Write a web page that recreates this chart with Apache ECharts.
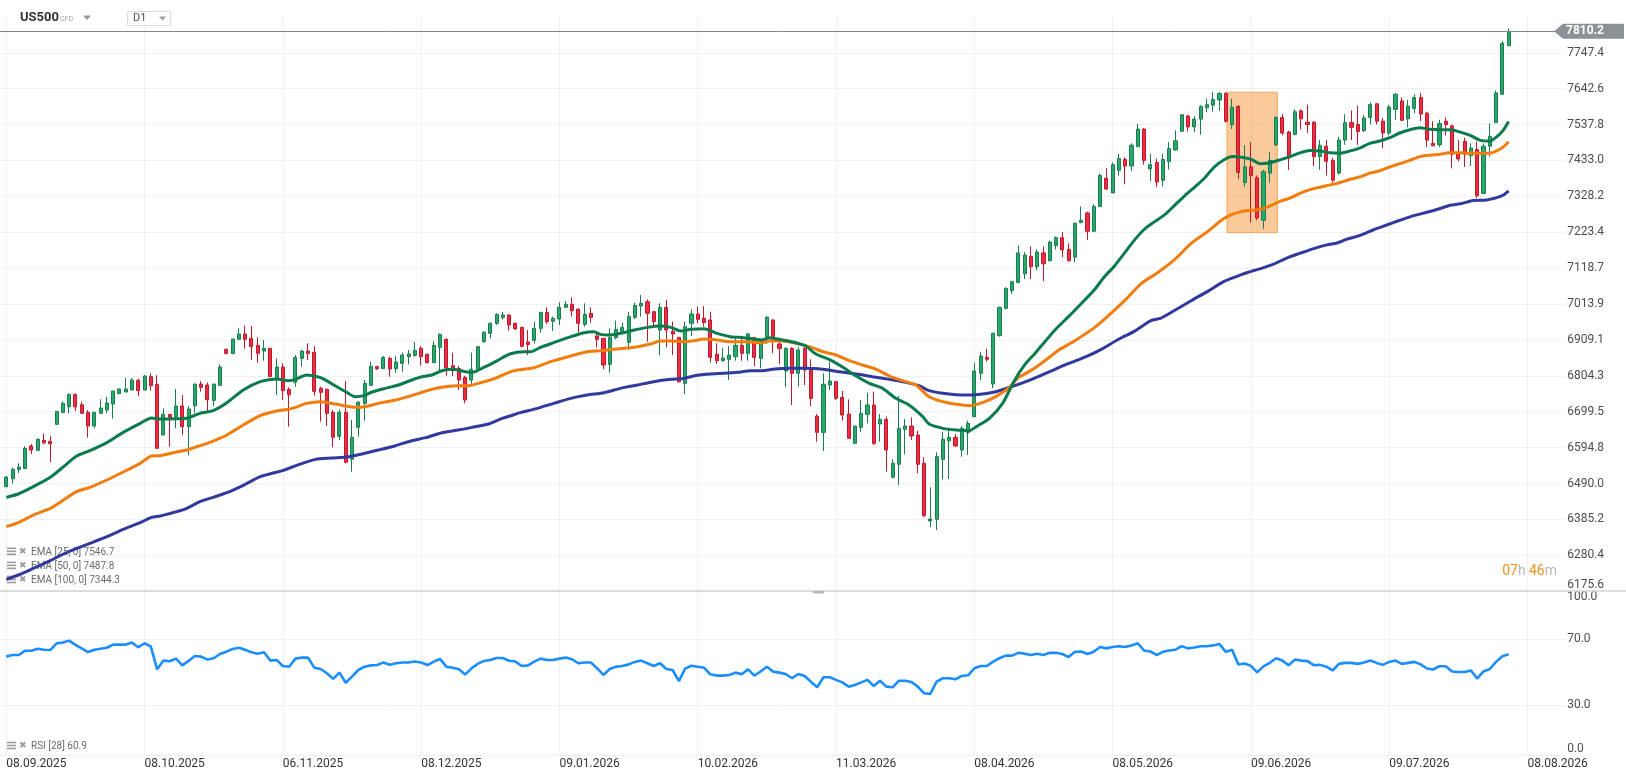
<!DOCTYPE html>
<html>
<head>
<meta charset="utf-8">
<title>US500 D1</title>
<script src="https://cdn.jsdelivr.net/npm/echarts@6/dist/echarts.min.js"></script>
<style>
  html, body { margin: 0; padding: 0; background: #fff; }
  #chart { width: 1626px; height: 779px; }
</style>
</head>
<body>
<div id="chart"></div>
<script>
// date labels, one every 22 bars starting at the first bar
const xLabels = ['08.09.2025', '08.10.2025', '06.11.2025', '08.12.2025', '09.01.2026', '10.02.2026',
  '11.03.2026', '08.04.2026', '08.05.2026', '09.06.2026', '09.07.2026', '08.08.2026'];
const priceTicks = [6175.6, 6280.4, 6385.2, 6490.0, 6594.8, 6699.5, 6804.3, 6909.1, 7013.9, 7118.7,
  7223.4, 7328.2, 7433.0, 7537.8, 7642.6, 7747.4];
const rsiTicks = [0, 30, 70, 100];

// daily candles, oldest first
const opens = [
  6480.7, 6504, 6531, 6534, 6599.4, 6586.8, 6616, 6613, 6662.7, 6697.7,
  6714, 6750, 6720, 6697.7, 6657.8, 6694.8, 6704.5, 6722, 6752.2, 6757,
  6762.9, 6791.1, 6762.9, 6801.8, 6779.4, 6631.5, 6691.9, 6685, 6716.2, 6655.9,
  6717, 6780.4, 6777.5, 6732.7, 6776.5, 6881.6, 6869, 6910.8, 6926.4, 6913.7,
  6893.3, 6876.7, 6884.5, 6797, 6830, 6764.8, 6785.3, 6855.3, 6876.7, 6872.8,
  6767.8, 6764.8, 6697.7, 6627.6, 6697.7, 6560.5, 6653.9, 6723.9, 6776.5, 6831,
  6825.2, 6855.3, 6825.2, 6840.7, 6860.2, 6864, 6884.5, 6867, 6842.7, 6887.4,
  6910.8, 6833.9, 6826.1, 6799.9, 6792.1, 6823.2, 6904, 6928.3, 6957.5, 6975,
  6981.8, 6957.5, 6945.8, 6903, 6907.9, 6942.9, 6989.6, 6963.4, 6970.2, 7004.2,
  7013, 6999.4, 6954.6, 6986.7, 6920.6, 6913.7, 6837.8, 6915.7, 6933.2, 6902,
  6975, 7008.1, 7020.8, 6991.6, 6938, 7004.2, 6934.2, 6916.7, 6782.4, 6957.5,
  6984.8, 6972.1, 6967.3, 6867, 6848.5, 6852.4, 6860.2, 6893.3, 6870, 6915.7,
  6855.3, 6918.6, 6967.3, 6897.2, 6818.4, 6884.5, 6811.6, 6884.5, 6821.3, 6687,
  6639.3, 6777.5, 6787.2, 6741.5, 6692.9, 6607.2, 6653.9, 6691.9, 6719.1, 6663.7,
  6677.3, 6508, 6546, 6648.1, 6657.8, 6631.5, 6548.9, 6380.5, 6385.4, 6560.5,
  6615, 6624.7, 6587.8, 6638.4, 6685.1, 6811.6, 6858.3, 6780.4, 6921.5, 7001.3,
  7052.9, 7076.9, 7102.3, 7153, 7122.6, 7163.2, 7140.4, 7184.7, 7207.6, 7173.3,
  7150.5, 7252, 7279.9, 7226.6, 7298.9, 7381.3, 7338.2, 7404.2, 7435.9, 7416.8,
  7473.9, 7524.6, 7408, 7427, 7375, 7429.5, 7463.8, 7518.3, 7562.7, 7531,
  7553.8, 7586.8, 7594.4, 7609.6, 7628.6, 7537.3, 7590.6, 7368.6, 7414.3, 7382.6,
  7258.4, 7396.1, 7478.8, 7558.7, 7515.9, 7509.1, 7578, 7544.9, 7544.9, 7444.3,
  7474.6, 7433.3, 7396.1, 7492.5, 7543.5, 7538, 7520.1, 7558.7, 7598.6, 7547.6,
  7513.2, 7582.1, 7606.9, 7554.5, 7584.8, 7616.5, 7571.1, 7482.9, 7478.8, 7547.6,
  7533.9, 7455.3, 7488.4, 7447.1, 7465, 7336.9, 7474.6, 7543.5, 7626.2, 7768
];
const closes = [
  6508.9, 6531.3, 6538, 6592.6, 6587.7, 6618.9, 6609, 6606, 6700.6, 6724,
  6750, 6714, 6694.8, 6657.8, 6697.7, 6710.3, 6725, 6760, 6765.8, 6765.8,
  6792, 6761, 6803.8, 6775.5, 6592.6, 6691.9, 6683, 6716.2, 6655.9, 6707.4,
  6780.4, 6770.7, 6734.7, 6780.4, 6830, 6869.9, 6911.8, 6926.4, 6910.8, 6889.4,
  6869.9, 6884.5, 6801.8, 6830, 6760.9, 6749.3, 6858.2, 6876.7, 6869.9, 6759,
  6756.1, 6694.8, 6624.7, 6697.7, 6551.8, 6624.7, 6726.9, 6782.4, 6832, 6825.2,
  6858.2, 6824.2, 6844.6, 6865, 6868, 6878.7, 6860.2, 6842.7, 6893.3, 6925.4,
  6828.1, 6819.3, 6792.1, 6733.7, 6823.2, 6889.4, 6931.2, 6957.5, 6983.8, 6981.8,
  6952.6, 6942, 6890.4, 6895.3, 6942.9, 6989.6, 6962.4, 6972.1, 7004.2, 7013,
  6994.5, 6957.5, 6983.8, 6975, 6910.8, 6835.9, 6915.7, 6940, 6945.8, 6977,
  7010, 7015.9, 6986.7, 6962.4, 7004.2, 6938, 6926.4, 6787.2, 6947.8, 6984.8,
  6969.2, 6959.5, 6858.3, 6848.5, 6856.3, 6865.1, 6893.3, 6870, 6926.4, 6858.3,
  6907, 6975, 6918.6, 6884.5, 6884.5, 6811.6, 6879.7, 6821.3, 6738.6, 6639.3,
  6779.5, 6789.2, 6738.6, 6690, 6621.8, 6657.8, 6694.8, 6719.1, 6607.2, 6677.3,
  6587.8, 6548.9, 6651, 6657.8, 6628.6, 6546, 6396.1, 6386.4, 6568.3, 6618.9,
  6624.7, 6599.4, 6651, 6665.6, 6818.4, 6862.2, 6852.4, 6928.3, 7004.2, 7059.7,
  7079.1, 7163.2, 7156.8, 7122.6, 7165.7, 7131.5, 7194.9, 7207.6, 7172, 7140.4,
  7249.4, 7258.3, 7226.6, 7298.9, 7388.9, 7349.6, 7420.6, 7438.4, 7416.8, 7477.7,
  7524.6, 7433.3, 7420.6, 7369.9, 7435.9, 7467.6, 7490.4, 7566.5, 7531, 7553.8,
  7590.6, 7595.7, 7610.9, 7628.6, 7547.5, 7588.1, 7397.8, 7414.3, 7388.9, 7264.7,
  7400.2, 7433.3, 7558.7, 7513.2, 7440.2, 7575.2, 7554.5, 7538, 7444.3, 7477.4,
  7430.6, 7375.4, 7492.5, 7543.5, 7529.7, 7517.3, 7557.3, 7595.9, 7547.6, 7513.2,
  7589, 7626.2, 7550.4, 7591.7, 7616.5, 7568.3, 7492.5, 7476, 7540.7, 7538,
  7451.2, 7437.4, 7451.2, 7469.1, 7330, 7474.6, 7503.5, 7630.3, 7774.9, 7810.2
];
const lows = [
  6478.8, 6490, 6521, 6534, 6576, 6586.8, 6605, 6552.7, 6662.7, 6694.8,
  6694.8, 6701.6, 6692.8, 6623.8, 6651, 6694.8, 6694.8, 6679.2, 6752.2, 6757,
  6762.9, 6745.4, 6762.9, 6760.9, 6592.6, 6631.5, 6597.5, 6651, 6631.5, 6572.2,
  6694.8, 6758, 6699.6, 6716.2, 6776.5, 6867, 6869, 6910.8, 6883.5, 6850.5,
  6842.7, 6848.5, 6801.8, 6748.3, 6733.7, 6655.9, 6772.6, 6831, 6850.5, 6746.4,
  6670.5, 6657.8, 6595.5, 6616.9, 6548.8, 6524.5, 6626.7, 6673.4, 6776.5, 6821.3,
  6825.2, 6801.8, 6813.5, 6816.4, 6837.8, 6860.2, 6833.9, 6840.7, 6842.7, 6821.3,
  6804.7, 6803.8, 6762.9, 6724, 6777.5, 6823.2, 6901, 6913.7, 6952.6, 6969.2,
  6936.1, 6938, 6887.5, 6865.1, 6899.1, 6930.3, 6955.6, 6935.1, 6952.7, 7004.2,
  6977, 6930.3, 6947.8, 6959.5, 6887.5, 6823.2, 6813.5, 6910.8, 6928.3, 6879.7,
  6970.2, 6977, 6904, 6951.7, 6864.1, 6887.5, 6865.1, 6784.3, 6751.3, 6920.6,
  6957.5, 6947.8, 6842.7, 6838.8, 6845.6, 6792.1, 6848.5, 6848.5, 6848.5, 6833,
  6826.2, 6897.2, 6870, 6838.8, 6770.7, 6719.1, 6772.6, 6777.5, 6716.2, 6612.1,
  6584.9, 6762.9, 6733.7, 6673.4, 6621.8, 6607.2, 6641.3, 6665.6, 6602.4, 6612.1,
  6524.5, 6505.1, 6485.6, 6575.1, 6617, 6519.7, 6391.3, 6362.1, 6354.3, 6502.2,
  6503.1, 6597.5, 6568.3, 6573.2, 6683.1, 6792.1, 6845.6, 6767.8, 6918.6, 6998.4,
  7043.2, 7074.4, 7087.1, 7087.1, 7112.4, 7080.7, 7137.8, 7173.3, 7150.5, 7137.8,
  7135.3, 7249.4, 7201.2, 7224.1, 7296.4, 7347.1, 7338.2, 7389, 7363.6, 7401.6,
  7471.4, 7420.6, 7372.5, 7356, 7357.2, 7406.7, 7461.2, 7515.8, 7518.3, 7515.8,
  7508.2, 7574.1, 7575.4, 7577.9, 7543.7, 7524.6, 7378.8, 7356, 7252, 7258.3,
  7233.6, 7368.6, 7474.6, 7506.3, 7405.7, 7506.3, 7522.8, 7513.2, 7416.8, 7405.7,
  7389.2, 7368.6, 7392, 7478.8, 7492.5, 7478.8, 7516, 7538, 7538, 7469.1,
  7506.3, 7551.8, 7547.6, 7529.7, 7571.1, 7547.6, 7471.9, 7474.6, 7471.9, 7506.3,
  7409.9, 7430.6, 7414, 7416.8, 7323.1, 7334.1, 7444.3, 7543.5, 7626.2, 7768
];
const highs = [
  6511.9, 6536, 6549, 6599, 6605, 6622, 6636, 6628, 6700.6, 6729,
  6753, 6753.2, 6728.8, 6704.5, 6697.7, 6735.6, 6743.4, 6760, 6767.7, 6797.9,
  6797.9, 6796, 6806.7, 6811.5, 6805.7, 6709.4, 6691.9, 6765.8, 6748.3, 6716,
  6780.4, 6789, 6785, 6780.4, 6837.8, 6884.5, 6911.8, 6942.9, 6950.7, 6949.7,
  6916.6, 6908.8, 6884.5, 6855.3, 6840.7, 6770.7, 6865, 6879.6, 6899.1, 6891.3,
  6772.6, 6767.8, 6704.5, 6706.5, 6789.2, 6675.3, 6730.8, 6792.1, 6845.6, 6833,
  6862, 6860.2, 6862, 6871.9, 6879.6, 6903, 6891.3, 6869.9, 6905.9, 6928.3,
  6913.7, 6871.9, 6833, 6804.7, 6871.9, 6889.4, 6935.1, 6960.4, 6986.7, 6990.6,
  6983.8, 6959.5, 6947.8, 6938, 6962.4, 6989.6, 7004.2, 6977, 7018.8, 7022.7,
  7033.4, 6999.4, 7015.9, 7004.2, 6928.3, 6913.7, 6942.9, 6965.3, 6959.5, 6991.6,
  7017.8, 7040.2, 7027.6, 6993.5, 7015.9, 7025.6, 6962.4, 6916.7, 6962.4, 6998.4,
  7006.2, 7008.1, 6991.6, 6899.1, 6884.5, 6891.3, 6918.6, 6913.7, 6930.3, 6918.6,
  6908.9, 6978.9, 6969.2, 6913.7, 6887.5, 6887.5, 6887.5, 6887.5, 6852.4, 6692.9,
  6811.6, 6845.6, 6789.2, 6760, 6735.6, 6657.8, 6733.7, 6755.1, 6758, 6692.9,
  6685.1, 6560.5, 6745.4, 6678.3, 6683.1, 6643.3, 6566.4, 6478.8, 6581, 6641.3,
  6646.2, 6634.5, 6657.8, 6673.4, 6842.7, 6874.8, 6883.6, 6930.3, 7006.2, 7062.6,
  7082, 7184.7, 7165.7, 7182.2, 7173.3, 7182.2, 7198.7, 7211.4, 7224.1, 7191.1,
  7252, 7298.9, 7283.7, 7305.2, 7395.3, 7410.5, 7427, 7452.4, 7442.2, 7482.8,
  7539.9, 7527.2, 7452.4, 7438.4, 7452.4, 7486.6, 7520.8, 7566.5, 7566.5, 7562.7,
  7594.4, 7613.4, 7632.5, 7632.5, 7632.5, 7613.4, 7594.4, 7477.7, 7486.6, 7389,
  7405.7, 7458.1, 7561.4, 7568.3, 7520.1, 7582.1, 7582.1, 7595.9, 7547.6, 7492.5,
  7492.5, 7440.2, 7502.2, 7568.3, 7579.3, 7593.1, 7565.5, 7602.7, 7598.6, 7557.3,
  7595.9, 7630.3, 7616.5, 7609.6, 7626.2, 7630.3, 7575.2, 7547.6, 7551.8, 7558.7,
  7538, 7492.5, 7499.4, 7482.9, 7488.4, 7482.9, 7540.7, 7637.2, 7781.8, 7819
];

// EMA readings as [bar, value]
const ema25 = [
  [0, 6449.6], [1.9, 6459.3], [4.3, 6480.7], [7, 6508], [9.1, 6539.1], [11.2, 6570.2], [13.3, 6585.8], [16, 6609.2],
  [18.6, 6639.3], [21.3, 6665.6], [23.1, 6681.2], [24.5, 6678.2], [27.1, 6679.2], [28.7, 6680.2], [30.8, 6694.8],
  [32.9, 6702.6], [35.1, 6725.9], [37.7, 6762.9], [40.4, 6787.2], [43, 6795], [44.9, 6790.1], [46, 6794], [47.8, 6806.7],
  [50, 6798.9], [52.4, 6774.6], [54, 6758], [55.5, 6743.4], [56.9, 6746.4], [58.2, 6757], [60.3, 6767.8], [62.4, 6777.5],
  [64.5, 6792.1], [66.1, 6801.8], [67.7, 6806.7], [69.3, 6819.3], [70.9, 6823.2], [73, 6816.4], [74.1, 6814.5],
  [76.2, 6831], [78.3, 6850.5], [80.1, 6868], [82.4, 6874.8], [83.4, 6874.8], [85, 6887.5], [87.1, 6901.1],
  [89.8, 6918.6], [91.9, 6930.3], [93.5, 6933.2], [94.5, 6925.4], [96.1, 6923.5], [97.7, 6928.3], [99.9, 6938],
  [102, 6945.8], [104.1, 6949.7], [105.7, 6945.8], [107.3, 6935.1], [108.9, 6940], [111, 6942], [113.1, 6928.3],
  [115.2, 6918.6], [117.3, 6915.7], [120.2, 6908.9], [121.4, 6915.7], [123.5, 6908.9], [125.6, 6901.1], [127.2, 6891.4],
  [128.8, 6868], [130.9, 6852.4], [133.1, 6829.1], [135.2, 6803.8], [137.3, 6782.4], [139.4, 6767.8], [141.5, 6738.6],
  [143.6, 6719.1], [145.8, 6685.1], [146.8, 6663.7], [149, 6651], [151.1, 6646.2], [153.2, 6644.2], [154.3, 6655.9],
  [156.4, 6680.2], [158.5, 6724], [160.3, 6788], [162, 6836], [163.6, 6869], [165.2, 6903.2], [166.8, 6937.4],
  [168.4, 6966.6], [170, 6995.8], [171.6, 7026.2], [173.1, 7055.4], [174.7, 7093.4], [176.3, 7125.1], [177.9, 7163.2],
  [179.5, 7201.2], [181.1, 7232.9], [182.7, 7254.5], [184.3, 7274.8], [185.9, 7302.6], [187.5, 7330.6], [189.1, 7356],
  [190.6, 7381.3], [192.2, 7414.3], [193.8, 7435.9], [195.1, 7444.8], [196.5, 7442.2], [198.1, 7435.9], [199.4, 7423.7],
  [201, 7426.4], [202.6, 7434.7], [204.2, 7444.3], [205.8, 7455.3], [207.4, 7462.2], [209, 7460.9], [210.6, 7455.3],
  [212.2, 7454], [213.8, 7460.9], [215.3, 7469.1], [216.9, 7482.9], [218.5, 7489.8], [220.1, 7499.4], [221.7, 7513.2],
  [223.3, 7522.8], [224.9, 7528.4], [226.5, 7524.2], [228.1, 7522.8], [229.7, 7522.8], [231.3, 7515.9], [232.9, 7506.3],
  [234.4, 7492.5], [236, 7489.8], [237.1, 7502.2], [238.1, 7520.1], [239, 7546.7]
];
const ema50 = [
  [0, 6364], [1.9, 6375.6], [4.3, 6398], [7, 6417.5], [9.1, 6441.8], [11.2, 6466.1], [13.3, 6478.8], [16, 6500.2],
  [18.6, 6523.5], [21.3, 6548.8], [23.1, 6570.2], [24.5, 6571.2], [27.1, 6581.9], [28.7, 6587.7], [30.8, 6600.4],
  [32.9, 6614], [35.1, 6631.5], [37.7, 6660.7], [40.4, 6688], [43, 6701.6], [44.9, 6706.5], [46, 6712.3], [47.8, 6724],
  [50, 6728.8], [52.4, 6722], [54, 6716.2], [55.5, 6712.3], [57.1, 6714.2], [59.2, 6724], [61.4, 6731.7], [63.5, 6741.5],
  [65.6, 6753.2], [67.7, 6764.8], [69.3, 6770.7], [70.9, 6774.6], [73.6, 6775.5], [75.1, 6782.4], [77.3, 6794],
  [80.1, 6815.4], [81.3, 6821.3], [84, 6828.1], [86.6, 6845.6], [89.8, 6862.2], [92.4, 6874.8], [94.5, 6877.7],
  [97.2, 6882.6], [99.9, 6887.5], [102.5, 6897.2], [104.1, 6905.9], [105.7, 6905.9], [107.3, 6904], [109.4, 6906.9],
  [111, 6911.8], [113.1, 6908.9], [115.2, 6904], [117.3, 6904], [120.2, 6901.1], [121.4, 6905.9], [123.5, 6905.9],
  [125.6, 6899.1], [127.8, 6889.4], [129.9, 6874.8], [132, 6865.1], [134.1, 6848.5], [136.2, 6835.9], [138.4, 6823.2],
  [140.5, 6803.8], [142.6, 6790.2], [144.7, 6777.5], [146.8, 6743.5], [149, 6728.9], [151.1, 6721.1], [153.2, 6717.2],
  [155.3, 6725.9], [157.4, 6743.5], [159.6, 6770.7], [160.9, 6797.9], [162.5, 6814.4], [164.6, 6839.8], [167.3, 6877.8],
  [170, 6907], [173.1, 6945], [175.3, 6979.3], [177.9, 7023.7], [180.6, 7074.4], [183.2, 7106.1], [185.9, 7144.2],
  [188.5, 7191.1], [191.2, 7226.6], [193.3, 7258.3], [194.9, 7274.8], [196.5, 7283.7], [198.1, 7287.5], [199.4, 7290],
  [201, 7299.7], [202.6, 7313.5], [204.2, 7323.1], [205.8, 7336.9], [207.4, 7347.9], [209, 7354.8], [210.6, 7361.7],
  [212.2, 7368.6], [213.8, 7378.2], [215.3, 7385.1], [216.9, 7396.1], [218.5, 7403], [220.1, 7414], [221.7, 7423.7],
  [223.3, 7433.3], [224.9, 7444.3], [226.5, 7448.5], [228.1, 7451.2], [229.7, 7455.3], [231.3, 7455.3], [232.9, 7454],
  [234.4, 7454], [236, 7454], [237.1, 7460.9], [238.1, 7471.9], [239, 7487.8]
];
const ema100 = [
  [0, 6210.2], [1.9, 6222.9], [4.3, 6242.3], [7, 6264.7], [9.1, 6284.2], [11.2, 6300.7], [13.3, 6315.3], [16, 6334.8],
  [18.6, 6356.2], [21.3, 6375.6], [23.1, 6391.2], [24.5, 6395.1], [27.1, 6407.8], [28.7, 6417.5], [30.8, 6437],
  [32.9, 6449.6], [35.1, 6463.2], [37.7, 6484.6], [40.4, 6509.9], [43.9, 6527.4], [46.5, 6544.9], [49.2, 6560.5],
  [51.8, 6564.4], [54.5, 6568.3], [56.6, 6576.1], [59.2, 6587.7], [61.9, 6600.4], [64.5, 6615], [66.7, 6623.8],
  [69.3, 6638.3], [71.9, 6646.1], [74.1, 6653.9], [76.7, 6663.6], [78.9, 6680.2], [80.1, 6687], [81.8, 6696.8],
  [84.5, 6709.4], [87.1, 6724], [89.8, 6738.6], [92.4, 6748.3], [95.1, 6755.1], [97.7, 6767.8], [100.4, 6777.5],
  [103, 6787.2], [105.7, 6794], [107.8, 6796.9], [109.9, 6805.7], [112, 6809.6], [114.1, 6811.6], [116.3, 6814.5],
  [118.4, 6819.4], [120.2, 6819.4], [121.9, 6823.2], [124.6, 6826.2], [127.2, 6826.2], [129.9, 6823.2], [132.5, 6816.4],
  [135.2, 6809.6], [137.8, 6801.8], [140.5, 6794], [143.1, 6785.3], [145.2, 6775.5], [146.8, 6761], [149, 6753.2],
  [151.1, 6749.3], [153.2, 6748.3], [155.3, 6751.2], [157.4, 6758], [159.6, 6770.7], [160.9, 6778.9], [163.6, 6797.9],
  [166.2, 6818.2], [168.9, 6839.8], [171.6, 6858.8], [174.2, 6881.6], [176.8, 6909.5], [179.5, 6934.9], [182.1, 6965.3],
  [183.7, 6972.9], [185.9, 6995.8], [188.5, 7023.7], [191.2, 7051.6], [193.8, 7080.7], [196.5, 7099.8], [198.6, 7112.4],
  [199.4, 7116.5], [201.6, 7130.3], [203.7, 7148.2], [205.8, 7161.9], [208, 7175.7], [210.1, 7186.7], [211.7, 7192.2],
  [213.3, 7203.3], [215.4, 7214.3], [217.5, 7230.8], [219.6, 7244.6], [221.7, 7258.4], [223.9, 7272.1], [226, 7281.8],
  [228.1, 7292.8], [229.7, 7302.4], [231.3, 7306.6], [233.4, 7316.2], [235.5, 7317.6], [237.1, 7324.5], [238.1, 7331.4],
  [239, 7344.3]
];

// RSI(28), one value per bar
const rsi = [
  59.5, 60.5, 60.5, 63.1, 63.1, 64.3, 63.7, 63.5, 67.6, 68.0,
  69.2, 66.6, 64.5, 62.3, 63.7, 64.3, 64.9, 66.8, 66.8, 66.8,
  68.0, 65.2, 67.6, 65.6, 51.8, 57.1, 56.7, 58.3, 54.2, 56.9,
  59.9, 59.5, 57.7, 58.5, 61.1, 62.5, 64.1, 64.9, 63.7, 62.1,
  61.3, 62.1, 57.1, 57.5, 53.8, 53.4, 58.3, 58.9, 58.9, 52.8,
  52.0, 49.4, 46.0, 49.8, 43.7, 47.4, 51.4, 53.4, 54.2, 54.4,
  55.9, 54.6, 55.5, 55.9, 55.9, 56.5, 55.9, 54.4, 56.5, 58.1,
  53.4, 52.8, 51.8, 48.6, 52.4, 55.1, 56.9, 57.5, 58.7, 58.7,
  57.0, 56.5, 53.8, 54.2, 56.5, 58.3, 57.5, 57.5, 58.3, 58.9,
  57.9, 55.5, 55.9, 55.9, 52.4, 48.4, 52.0, 53.4, 53.8, 54.8,
  56.3, 57.1, 55.5, 53.8, 55.5, 52.0, 51.4, 44.7, 52.2, 54.0,
  53.4, 52.8, 48.8, 48.0, 48.0, 48.4, 49.8, 48.8, 51.8, 48.0,
  50.5, 53.4, 50.4, 49.8, 49.0, 46.4, 49.0, 47.8, 44.3, 40.9,
  47.0, 47.0, 45.4, 43.9, 41.3, 42.3, 43.9, 45.4, 41.7, 44.9,
  41.3, 40.9, 44.9, 44.9, 44.1, 41.3, 37.3, 36.9, 44.3, 46.4,
  46.4, 45.8, 47.8, 48.2, 52.4, 53.8, 53.8, 56.5, 58.5, 60.1,
  60.1, 61.8, 61.3, 60.5, 61.3, 60.5, 61.8, 61.8, 61.1, 59.2,
  62.4, 62.6, 61.1, 62.4, 65.3, 64.5, 65.3, 65.8, 65.3, 66.3,
  67.6, 63.2, 62.6, 60.5, 62.4, 63.2, 63.7, 65.8, 64.5, 65.0,
  65.8, 65.8, 66.3, 67.1, 62.4, 63.7, 54.7, 55.3, 53.9, 50.0,
  53.6, 55.7, 58.5, 57.1, 54.3, 57.7, 57.1, 56.8, 54.3, 54.5,
  53.4, 51.1, 55.1, 55.7, 55.7, 55.1, 56.0, 57.1, 55.7, 54.5,
  56.3, 57.1, 55.1, 55.7, 56.3, 54.8, 52.3, 51.7, 53.7, 53.7,
  50.5, 50.2, 50.2, 51.1, 46.2, 50.5, 52.0, 56.3, 59.7, 60.9
];

// shaded zone: bars and prices
const highlightBars = [194.2, 202.2];
const highlightPrices = [7222.4, 7632.1];

const FONT = 'Roboto, "Liberation Sans", sans-serif';
const GRID_LINE = '#f0f0f0';
const priceMin = 6175.6, priceMax = 7852.4;
const labelEvery = 22;
const leadSlots = 1, tailSlots = 9;
const slotCount = leadSlots + opens.length + tailSlots;
const slots = Array.from({ length: slotCount }, (_, i) => String(i));
const isLabelSlot = i => i >= leadSlots && (i - leadSlots) % labelEvery === 0 && (i - leadSlots) / labelEvery < xLabels.length;

const candleRows = opens.map((o, i) => [i + leadSlots, o, closes[i], lows[i], highs[i]]);
const rsiRows = rsi.map((v, i) => [i + leadSlots, v]);
const toSlots = arr => arr.map(p => [p[0] + leadSlots, p[1]]);
const lastClose = closes[closes.length - 1];

const emaSeries = [
  { name: 'EMA [100, 0]', data: ema100, color: '#30399e' },
  { name: 'EMA [50, 0]', data: ema50, color: '#f27c0c' },
  { name: 'EMA [25, 0]', data: ema25, color: '#0b7b4e' }
];

const chart = echarts.init(document.getElementById('chart'));

const option = {
  animation: false,
  backgroundColor: '#fff',
  textStyle: { fontFamily: FONT },
  grid: [
    { left: 0, top: 16.8, width: 1565.2, height: 574.4 },
    { left: 0, top: 589.8, width: 1565.2, height: 165 }
  ],
  xAxis: [
    {
      type: 'category', gridIndex: 0, data: slots, boundaryGap: false,
      axisLine: { show: false }, axisTick: { show: false }, axisLabel: { show: false },
      splitLine: { show: true, interval: isLabelSlot, lineStyle: { color: GRID_LINE } }
    },
    { type: 'value', gridIndex: 0, min: 0, max: slotCount - 1, show: false },
    {
      type: 'category', gridIndex: 1, data: slots, boundaryGap: false,
      axisLine: { show: false }, axisTick: { show: false },
      axisLabel: {
        interval: isLabelSlot,
        formatter: (v, i) => xLabels[(i - leadSlots) / labelEvery] || '',
        align: 'left', margin: 3, fontSize: 12, color: '#333', fontFamily: FONT
      },
      splitLine: { show: true, interval: isLabelSlot, lineStyle: { color: GRID_LINE } }
    }
  ],
  yAxis: [
    {
      type: 'value', gridIndex: 0, position: 'right', min: priceMin, max: priceMax,
      axisLine: { show: false },
      axisTick: { show: false, customValues: priceTicks },
      axisLabel: {
        customValues: priceTicks, margin: 2, fontSize: 12, color: '#4d4d4d', fontFamily: FONT,
        formatter: v => Math.abs(v - priceMin) < 0.01 ? '{low|' + v.toFixed(1) + '}' : v.toFixed(1),
        rich: { low: { padding: [0, 0, 12, 0], fontSize: 12, color: '#4d4d4d', fontFamily: FONT } }
      },
      splitLine: { lineStyle: { color: GRID_LINE } }
    },
    {
      type: 'value', gridIndex: 1, position: 'right', min: 0, max: 100,
      axisLine: { show: false },
      axisTick: { show: false, customValues: rsiTicks },
      axisLabel: {
        customValues: rsiTicks, margin: 2, fontSize: 12, color: '#4d4d4d', fontFamily: FONT,
        formatter: v => v === 100 ? '{high|100.0}' : (v === 0 ? '{low|0.0}' : v.toFixed(1)),
        rich: {
          high: { padding: [14, 0, 0, 0], fontSize: 12, color: '#4d4d4d', fontFamily: FONT },
          low: { padding: [0, 0, 12, 0], fontSize: 12, color: '#4d4d4d', fontFamily: FONT }
        }
      },
      splitLine: { lineStyle: { color: GRID_LINE } }
    }
  ],
  series: [
    {
      type: 'candlestick', xAxisIndex: 0, yAxisIndex: 0, z: 2, silent: true,
      data: candleRows, encode: { x: 0, y: [1, 2, 3, 4] },
      barWidth: 3.6,
      itemStyle: {
        color: '#27a86e', color0: '#ef2b40',
        borderColor: '#1b7c4c', borderColor0: '#bb1b2e', borderWidth: 1
      },
      markLine: {
        silent: true, symbol: ['none', 'none'], label: { show: false },
        lineStyle: { color: '#7d868b', width: 1, type: 'solid' },
        data: [{ yAxis: lastClose }]
      }
    },
    ...emaSeries.map(e => ({
      type: 'line', name: e.name, xAxisIndex: 1, yAxisIndex: 0, z: 3, silent: true,
      data: toSlots(e.data), showSymbol: false, smooth: 0.25,
      lineStyle: { color: e.color, width: 3 }
    })),
    {
      type: 'line', xAxisIndex: 1, yAxisIndex: 0, z: 6, silent: true, data: [],
      markArea: {
        silent: true,
        itemStyle: { color: 'rgba(245,140,40,0.46)', borderColor: '#f4a556', borderWidth: 1 },
        data: [[
          { coord: [highlightBars[0] + leadSlots, highlightPrices[1]] },
          { coord: [highlightBars[1] + leadSlots, highlightPrices[0]] }
        ]]
      }
    },
    {
      type: 'line', xAxisIndex: 2, yAxisIndex: 1, z: 3, silent: true,
      data: rsiRows, showSymbol: false,
      lineStyle: { color: '#1a8dff', width: 2.6 }
    }
  ]
};

chart.setOption(option);

// overlays: header, indicator captions, price tag
const ICON = '#9b9b9b';
function captionRow(y, text) {
  return [
    { type: 'rect', z: 1, shape: { x: 7, y: y - 5, width: 9, height: 1.6 }, style: { fill: ICON } },
    { type: 'rect', z: 1, shape: { x: 7, y: y - 2, width: 9, height: 1.6 }, style: { fill: ICON } },
    { type: 'rect', z: 1, shape: { x: 7, y: y + 1, width: 9, height: 1.6 }, style: { fill: ICON } },
    { type: 'text', z: 1, x: 19, y: y - 1, style: { text: '✖', fontSize: 9, fontFamily: '"DejaVu Sans"', fill: ICON, verticalAlign: 'middle' } },
    { type: 'text', z: 1, x: 31, y: y, style: { text: text, fontSize: 10, fontFamily: FONT, fill: '#6b6b6b', verticalAlign: 'middle' } }
  ];
}

const py = chart.convertToPixel({ yAxisIndex: 0 }, lastClose);
let elements = [
  // header
  { type: 'text', x: 20, y: 18, style: { text: 'US500', fontSize: 13, fontWeight: 'bold', fontFamily: FONT, fill: '#333', verticalAlign: 'middle' } },
  { type: 'text', x: 60, y: 19, style: { text: 'CFD', fontSize: 7, fontFamily: FONT, fill: '#a5a5a5', verticalAlign: 'middle' } },
  { type: 'polygon', shape: { points: [[83, 15.5], [91, 15.5], [87, 20]] }, style: { fill: '#9a9a9a' } },
  { type: 'rect', shape: { x: 127.5, y: 11.5, width: 43, height: 14 }, style: { fill: '#fff', stroke: '#dcdcdc', lineWidth: 1 } },
  { type: 'text', x: 133, y: 18.5, style: { text: 'D1', fontSize: 11, fontFamily: FONT, fill: '#555', verticalAlign: 'middle' } },
  { type: 'polygon', shape: { points: [[159, 16.5], [166, 16.5], [162.5, 20.5]] }, style: { fill: '#9a9a9a' } },
  // panel separator and its handle
  { type: 'line', z: 4, shape: { x1: 0, y1: 591, x2: 1626, y2: 591 }, style: { stroke: '#d4d4d4', lineWidth: 1.5 } },
  { type: 'rect', z: 4, shape: { x: 813, y: 591, width: 11, height: 2.5 }, style: { fill: '#b9b9b9' } },
  // countdown
  {
    type: 'text', z: 4, x: 1557, y: 571,
    style: {
      text: '{o|07}{g|h} {o|46}{g|m}', align: 'right', verticalAlign: 'middle',
      rich: {
        o: { fontSize: 14, fontFamily: FONT, fill: '#f7931e' },
        g: { fontSize: 14, fontFamily: FONT, fill: '#b8b8b8' }
      }
    }
  },
  // last price tag
  {
    type: 'polygon', z: 10,
    shape: { points: [[1554, py], [1563, py - 7.5], [1624, py - 7.5], [1624, py + 7.5], [1563, py + 7.5]] },
    style: { fill: '#8b9296' }
  },
  { type: 'text', z: 11, x: 1566, y: py, style: { text: lastClose.toFixed(1), fontSize: 12, fontWeight: 'bold', fontFamily: FONT, fill: '#fff', verticalAlign: 'middle' } }
];
emaSeries.slice().reverse().forEach((e, i) => {
  elements = elements.concat(captionRow(552.5 + i * 14.1, e.name + ' ' + e.data[e.data.length - 1][1].toFixed(1)));
});
elements = elements.concat(captionRow(746.7, 'RSI [28] ' + rsi[rsi.length - 1].toFixed(1)));

chart.setOption({ graphic: elements });
</script>
</body>
</html>
